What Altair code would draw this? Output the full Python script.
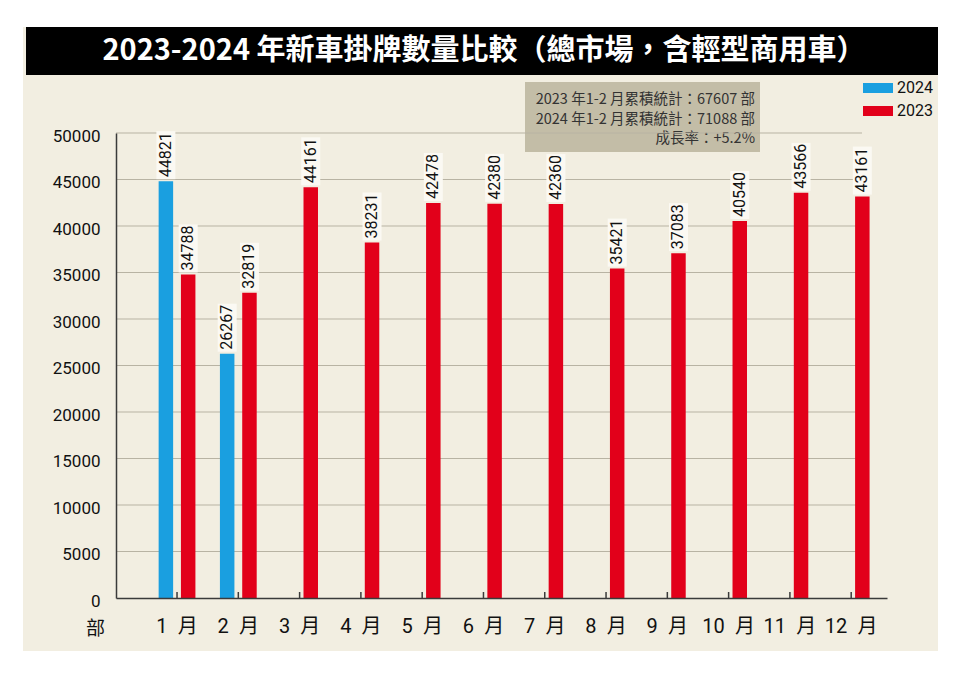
import altair as alt
import pandas as pd

# ---------------- data ----------------
months = ["1", "2", "3", "4", "5", "6", "7", "8", "9", "10", "11", "12"]
years = ["2024", "2023"]
sales_2024 = [44821, 26267]
sales_2023 = [34788, 32819, 44161, 38231, 42478, 42380, 42360, 35421, 37083, 40540, 43566, 43161]
y_ticks = [0, 5000, 10000, 15000, 20000, 25000, 30000, 35000, 40000, 45000, 50000]
title_text = "2023-2024 年新車掛牌數量比較（總市場，含輕型商用車）"
note_lines = ["2023 年1-2 月累積統計：67607 部",
              "2024 年1-2 月累積統計：71088 部",
              "成長率：+5.2%"]
bar_colors = ["#1a9fe0", "#e2001a"]

rows = [{"month": m, "year": "2024", "value": v} for m, v in zip(months, sales_2024)]
rows += [{"month": m, "year": "2023", "value": v} for m, v in zip(months, sales_2023)]
df = pd.DataFrame(rows)

NARROW = "Roboto, Noto Sans CJK TC, sans-serif"
CJK = "Noto Sans CJK TC, Noto Sans, sans-serif"

W, H = 771, 465

x_scale = alt.Scale(domain=months, paddingInner=0.4, paddingOuter=0.49, align=0.71)
off_scale = alt.Scale(domain=years, paddingInner=0.35, paddingOuter=0)
y_scale = alt.Scale(domain=[0, 50000], nice=False)

one = pd.DataFrame({"k": [0]})

panel = alt.Chart(one).mark_rect(color="#f2eee1").encode(
    x=alt.value(-93), x2=alt.value(822), y=alt.value(-106), y2=alt.value(518))

title_bar = alt.Chart(one).mark_rect(color="#000000").encode(
    x=alt.value(-90), x2=alt.value(822), y=alt.value(-106), y2=alt.value(-58))

title = alt.Chart(pd.DataFrame({"t": [title_text]})).mark_text(
    font=CJK, fontSize=29, fontWeight="bold", color="#ffffff",
    align="center", baseline="middle").encode(
    x=alt.value(368), y=alt.value(-82), text="t:N")

note_box = alt.Chart(one).mark_rect(color="#c3bda7").encode(
    x=alt.value(409), x2=alt.value(644), y=alt.value(-51), y2=alt.value(19))

note = alt.Chart(one).mark_text(
    text=note_lines, font=CJK, fontSize=14.5, color="#333333", align="right",
    baseline="middle", lineHeight=19.5).encode(
    x=alt.value(639), y=alt.value(-33))

grid = alt.Chart(pd.DataFrame({"value": y_ticks[1:]})).mark_rule(
    color="#b8b3a3", strokeWidth=1).encode(
    y=alt.Y("value:Q", scale=y_scale), x=alt.value(0), x2=alt.value(746))

x_enc = alt.X("month:O", sort=months, scale=x_scale,
              axis=alt.Axis(title=None, labelAngle=0, ticks=False, grid=False,
                            labelExpr="datum.label + '\u2002月'",
                            labelFont=NARROW, labelFontSize=20, labelColor="#111111",
                            labelPadding=18, domainColor="#3a3a3a", domainWidth=1.5,
                            zindex=1))

bars = alt.Chart(df).mark_bar().encode(
    x=x_enc,
    xOffset=alt.XOffset("year:N", scale=off_scale),
    y=alt.Y("value:Q", scale=y_scale,
            axis=alt.Axis(values=y_ticks, format="d", ticks=False, grid=False,
                          title="部", titleAngle=0, titleX=-21, titleY=495,
                          titleAlign="center", titleBaseline="middle",
                          titleFont=CJK, titleFontSize=19, titleFontWeight="normal",
                          titleColor="#111111",
                          labelFont=NARROW, labelFontSize=17, labelColor="#111111",
                          labelPadding=16, labelOffset=3,
                          domainColor="#3a3a3a", domainWidth=1.5, zindex=1)),
    color=alt.Color("year:N", scale=alt.Scale(domain=years, range=bar_colors),
                    legend=alt.Legend(orient="none", legendX=752, legendY=-55,
                                      title=None, padding=0,
                                      symbolType="M-1.5,-0.5H1.5V0.5H-1.5Z",
                                      symbolSize=400, symbolStrokeWidth=0,
                                      symbolOpacity=1,
                                      labelFont=NARROW, labelFontSize=16,
                                      labelColor="#111111", labelOffset=9,
                                      rowPadding=5, zindex=1)),
)

label_box = alt.Chart(df).mark_bar(color="#fbf9f3", width=19, yOffset=-2, y2Offset=-50).encode(
    x=alt.X("month:O", sort=months, scale=x_scale),
    xOffset=alt.XOffset("year:N", scale=off_scale),
    y=alt.Y("value:Q", scale=y_scale),
    y2="value:Q",
)

labels = alt.Chart(df).mark_text(
    angle=270, align="left", baseline="middle", dx=4,
    font=NARROW, fontSize=16, color="#111111").encode(
    x=alt.X("month:O", sort=months, scale=x_scale),
    xOffset=alt.XOffset("year:N", scale=off_scale),
    y=alt.Y("value:Q", scale=y_scale),
    text=alt.Text("value:Q", format="d"),
)

month_ticks = alt.Chart(pd.DataFrame({"month": months})).mark_rule(
    color="#3a3a3a", strokeWidth=1.5).encode(
    x=alt.X("month:O", sort=months, scale=x_scale),
    y=alt.value(H), y2=alt.value(H - 6))

chart = alt.layer(
    panel, title_bar, title, note_box, note, grid, bars, label_box, labels, month_ticks
).properties(
    width=W, height=H,
    padding={"left": 108, "top": 125, "right": 65, "bottom": 71},
    autosize="none",
    background="#ffffff",
).configure_view(stroke=None)

chart.save("out.html", embed_options={"renderer": "svg", "actions": False})
